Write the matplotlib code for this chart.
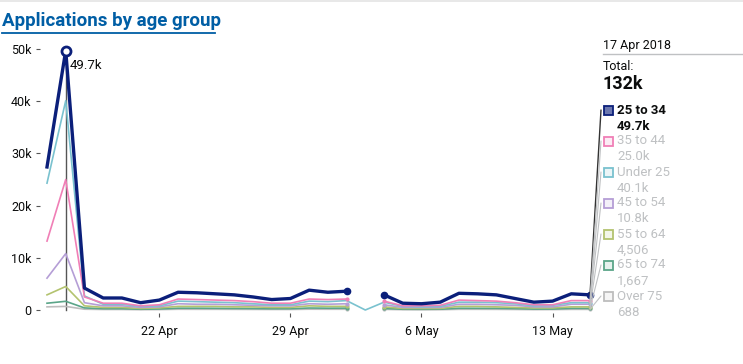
import matplotlib
matplotlib.use("Agg")
import matplotlib.pyplot as plt
import matplotlib.dates as mdates
from matplotlib.patches import Rectangle, ConnectionPatch
from matplotlib.lines import Line2D
import numpy as np
import datetime as dt

plt.rcParams['font.family'] = ['Roboto', 'DejaVu Sans']

nan = np.nan
dates = [dt.date(2018, 4, 16) + dt.timedelta(days=i) for i in range(30)]

# thousands of applications per day
age_25_34 = [27.4, 49.7, 4.2, 2.3, 2.3, 1.4, 1.9, 3.4, 3.3, 3.1, 2.9, 2.5, 2.0, 2.2, 3.8, 3.4, 3.6, nan,
             2.9, 1.3, 1.2, 1.5, 3.2, 3.1, 2.9, 2.2, 1.5, 1.7, 3.1, 2.9]
age_35_44 = [13.2, 25.0, 2.5, 1.3, 1.3, 0.8, 1.0, 2.1, 2.0, 1.9, 1.8, 1.6, 1.3, 1.3, 2.1, 2.0, 2.1, nan,
             1.7, 0.8, 0.8, 0.9, 1.9, 1.8, 1.7, 1.4, 1.0, 1.0, 1.8, 1.8]
under_25 = [24.3, 40.1, 2.7, 1.1, 1.1, 0.7, 0.8, 1.7, 1.6, 1.5, 1.4, 1.2, 1.0, 1.0, 1.7, 1.6, 1.8, 0.0,
            1.5, 0.7, 0.6, 0.7, 1.5, 1.5, 1.4, 1.2, 0.8, 0.9, 1.4, 1.4]
age_45_54 = [6.1, 10.8, 1.4, 0.8, 0.8, 0.5, 0.6, 1.2, 1.1, 1.1, 1.0, 0.9, 0.8, 0.8, 1.2, 1.1, 1.2, nan,
             1.0, 0.5, 0.5, 0.5, 1.1, 1.1, 1.0, 0.9, 0.6, 0.6, 1.1, 1.1]
age_55_64 = [2.9, 4.506, 0.8, 0.5, 0.5, 0.3, 0.4, 0.7, 0.7, 0.7, 0.6, 0.6, 0.5, 0.5, 0.8, 0.7, 0.7, nan,
             0.6, 0.3, 0.3, 0.3, 0.7, 0.7, 0.6, 0.5, 0.4, 0.4, 0.6, 0.6]
age_65_74 = [1.3, 1.667, 0.4, 0.25, 0.25, 0.15, 0.2, 0.35, 0.35, 0.33, 0.3, 0.28, 0.24, 0.25, 0.38, 0.35, 0.36, nan,
             0.3, 0.15, 0.14, 0.16, 0.34, 0.33, 0.32, 0.27, 0.18, 0.19, 0.32, 0.31]
over_75 = [0.6, 0.688, 0.15, 0.1, 0.1, 0.06, 0.08, 0.14, 0.13, 0.13, 0.12, 0.11, 0.1, 0.1, 0.15, 0.14, 0.14, nan,
           0.12, 0.06, 0.05, 0.06, 0.13, 0.13, 0.12, 0.1, 0.07, 0.08, 0.12, 0.12]

labels = ["25 to 34", "35 to 44", "Under 25", "45 to 54", "55 to 64", "65 to 74", "Over 75"]
values = [age_25_34, age_35_44, under_25, age_45_54, age_55_64, age_65_74, over_75]
hover_text = ["49.7k", "25.0k", "40.1k", "10.8k", "4,506", "1,667", "688"]
colors = ["#0b1f7a", "#f07fb6", "#7ac2cf", "#b59ed6", "#b3c36f", "#5aa588", "#bdbdbd"]
hover_idx = 1

W, H = 743, 364
fig = plt.figure(figsize=(W / 100, H / 100), dpi=100)

# axes placed in pixels: 16 Apr at x=47, 15 May at x=590; 0 at y=310, 50k at y=49
ax_l, ax_r, ax_t, ax_b = 40, 598, 45, 313
ax = fig.add_axes([ax_l / W, 1 - ax_b / H, (ax_r - ax_l) / W, (ax_b - ax_t) / H])
ax.patch.set_visible(False)
d0 = mdates.date2num(dates[0])
d1 = mdates.date2num(dates[-1])
ppd = (590 - 47) / (d1 - d0)
ax.set_xlim(d0 - (47 - ax_l) / ppd, d1 + (ax_r - 590) / ppd)
ppk = (310 - 49) / 50
ax.set_ylim(-(ax_b - 310) / ppk, 50 + (49 - ax_t) / ppk)

for s in ax.spines.values():
    s.set_visible(False)

# hover line
ax.axvline(mdates.date2num(dates[hover_idx]), ymin=0.01, ymax=0.985, color="#555555", lw=1, zorder=1)

for i in reversed(range(len(labels))):
    y = np.array(values[i], dtype=float)
    lw = 2.4 if i == 0 else 1.2
    ax.plot(dates, y, color=colors[i], lw=lw, zorder=10 - i, solid_joinstyle="round")
    # markers at ends of broken segments and last point
    ends = [j for j in range(len(y)) if not np.isnan(y[j]) and j > 0 and
            (j == len(y) - 1 or np.isnan(y[j - 1]) or np.isnan(y[j + 1]))]
    ax.plot([dates[j] for j in ends], y[ends], "o", color=colors[i],
            ms=4.5 if i == 0 else 2, zorder=10 - i)

ax.plot(dates[hover_idx], age_25_34[hover_idx], "o", ms=6.5, mfc="white", mec=colors[0], mew=2, zorder=20)
ax.annotate("49.7k", (dates[hover_idx], age_25_34[hover_idx]), xytext=(3, -13),
            textcoords="offset points", fontsize=9.5, color="#0b0c0c", zorder=21)

yticks = [0, 10, 20, 30, 40, 50]
ax.set_yticks(yticks)
ax.set_yticklabels(["0", "10k", "20k", "30k", "40k", "50k"])
xtick_dates = [dt.date(2018, 4, 22), dt.date(2018, 4, 29), dt.date(2018, 5, 6), dt.date(2018, 5, 13)]
ax.set_xticks(xtick_dates)
ax.set_xticklabels(["22 Apr", "29 Apr", "6 May", "13 May"])
ax.tick_params(axis="y", length=3, width=0.8, color="#555555", labelsize=9, labelcolor="#0b0c0c", pad=3)
ax.tick_params(axis="x", length=3, width=0.8, color="#555555", labelsize=9, labelcolor="#0b0c0c", pad=6)

# title and top rule
fig.add_artist(Line2D([0, 1], [1 - 1 / H, 1 - 1 / H], color="#e4e4e4", lw=1.2))
fig.text(2 / W, 1 - 21 / H, "Applications by age group", fontsize=13.5, fontweight="bold",
         color="#005ea5", va="center", ha="left")
fig.add_artist(Line2D([2 / W, 215 / W], [1 - 32.5 / H, 1 - 32.5 / H], color="#005ea5", lw=1.3))

# side panel
px = 603
fig.text(px / W, 1 - 45 / H, "17 Apr 2018", fontsize=9, color="#0b0c0c", va="center")
fig.add_artist(Line2D([px / W, 1], [1 - 54 / H, 1 - 54 / H], color="#bfc1c3", lw=1))
fig.text(px / W, 1 - 66 / H, "Total:", fontsize=9, color="#0b0c0c", va="center")
fig.text(px / W, 1 - 84 / H, "132k", fontsize=13, fontweight="bold", color="#0b0c0c", va="center")

for i, lab in enumerate(labels):
    yl = 110 + 31 * i
    sel = i == 0
    fill_alpha = 0.6 if sel else 0.15
    fig.add_artist(Rectangle(((px + 1) / W, 1 - (yl + 5) / H), 9 / W, 9 / H,
                             facecolor=colors[i], alpha=fill_alpha, edgecolor="none"))
    fig.add_artist(Rectangle(((px + 1) / W, 1 - (yl + 5) / H), 9 / W, 9 / H,
                             facecolor="none", edgecolor=colors[i], lw=1.3))
    tcol = "#0b0c0c" if sel else "#bfc1c3"
    fw = "bold" if sel else "normal"
    fig.text((px + 14) / W, 1 - yl / H, lab, fontsize=9.5, color=tcol, fontweight=fw, va="center")
    fig.text((px + 14) / W, 1 - (yl + 16) / H, hover_text[i], fontsize=9.5, color=tcol, fontweight=fw,
             va="center")
    # leader line from last value to legend entry
    con = ConnectionPatch(xyA=(mdates.date2num(dates[-1]), values[i][-1]), coordsA=ax.transData,
                          xyB=(px - 2, H - yl), coordsB="figure pixels",
                          color="#333333" if sel else "#bfc1c3", lw=1 if sel else 0.8, zorder=5)
    fig.add_artist(con)

fig.savefig("out.png", dpi=100)
